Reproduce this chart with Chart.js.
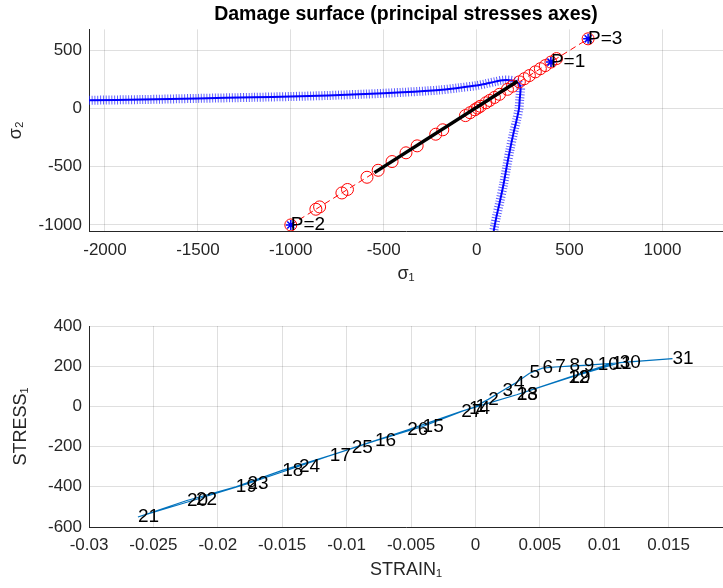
<!DOCTYPE html>
<html>
<head>
<meta charset="utf-8">
<script src="https://cdn.jsdelivr.net/npm/chart.js@4/dist/chart.umd.min.js"></script>
<style>
  html, body { margin: 0; padding: 0; background: #fff; overflow: hidden; }
  .panel { position: absolute; left: 0; width: 723px; height: 294px; overflow: hidden; }
  #top { top: 0; }
  #bottom { top: 294px; }
</style>
</head>
<body>
<!-- the top canvas is 7px wider than the panel: chart.js keeps a 7px margin for the large markers -->
<div class="panel" id="top"><canvas id="surface" width="730" height="294"></canvas></div>
<div class="panel" id="bottom"><canvas id="response" width="723" height="294"></canvas></div>
<script>
// damage surface boundary (principal stresses)
const surfaceS1 = [-2086, -1800, -1500, -1200, -1000, -800, -600, -400, -200, -100, 0, 50, 100, 140, 180, 210, 228, 236,
  236, 232, 228, 215, 200, 180, 162, 145, 125, 108, 98, 92];
const surfaceS2 = [72, 78, 88, 97, 104, 113, 125, 140, 160, 178, 198, 214, 232, 244, 244, 232, 212, 185,
  150, 80, 0, -100, -200, -350, -500, -650, -800, -920, -1000, -1052];

// stress path (sigma1 = sigma2)
const pathSigma = [-1000, -865, -845, -725, -695, -590, -530, -455, -380, -320, -220, -182, -60, -35, -10, 5, 20,
  50, 70, 96, 123, 166, 193, 230, 257, 284, 316, 343, 370, 400, 430, 600];

const elasticS1 = [-550, 220];
const elasticS2 = [-550, 235];

const probeLabels = ["P=1", "P=2", "P=3"];
const probeS1 = [400, -1000, 600];
const probeS2 = [400, -1000, 600];

const sigma1Ticks = [-2000, -1500, -1000, -500, 0, 500, 1000];
const sigma2Ticks = [-1000, -500, 0, 500];

// strain / stress history, steps 1..31
const strainValues = [0, 0.001, 0.0021, 0.003, 0.0042, 0.0052, 0.0062, 0.0073, 0.0084, 0.0095, 0.0106,
  0.0072, 0.0032, -0.0005, -0.0041, -0.0078, -0.0113, -0.015, -0.0186, -0.0224, -0.0262,
  -0.0217, -0.0177, -0.0137, -0.0096, -0.0053, -0.0011, 0.0032, 0.0073, 0.0112, 0.0153];
const stressValues = [0, 35, 78, 112, 165, 190, 196, 200, 204, 209, 214,
  143, 58, -12, -100, -172, -245, -318, -400, -468, -550,
  -463, -385, -298, -208, -118, -25, 58, 143, 218, 238];
const stepLabels = strainValues.map((_v, i) => String(i + 1));

const strainTicks = [-0.03, -0.025, -0.02, -0.015, -0.01, -0.005, 0, 0.005, 0.01, 0.015];
const stressTicks = [-600, -400, -200, 0, 200, 400];

const FONT = "'Liberation Sans', Arial, sans-serif";
const AXIS_COLOR = "#262626";
const GRID_COLOR = "rgba(38,38,38,0.15)";

const pointLabelPlugin = {
  id: "pointLabels",
  afterDatasetsDraw(chart, _args, options) {
    const { ctx } = chart;
    const meta = chart.getDatasetMeta(options.datasetIndex);
    ctx.save();
    ctx.font = options.font;
    ctx.fillStyle = options.color;
    ctx.textAlign = "left";
    ctx.textBaseline = "middle";
    meta.data.forEach((el, i) => {
      ctx.fillText(options.labels[i], el.x, el.y);
    });
    ctx.restore();
  },
};

function axis(min, max, tickValues, title, titlePad, fit, tickPad) {
  return {
    type: "linear",
    min,
    max,
    afterFit: fit,
    afterBuildTicks: (scale) => {
      scale.ticks = tickValues.map((value) => ({ value }));
    },
    border: { color: AXIS_COLOR, width: 1 },
    grid: { color: GRID_COLOR, drawTicks: false },
    ticks: {
      padding: tickPad,
      autoSkip: false,
      maxRotation: 0,
      color: AXIS_COLOR,
      font: { family: FONT, size: 17 },
      callback: (v) => String(Number(v.toFixed(3))),
    },
    title: {
      display: true,
      text: title,
      color: AXIS_COLOR,
      padding: titlePad,
      font: { family: FONT, size: 18 },
    },
  };
}

const pairs = (xs, ys) => xs.map((x, i) => ({ x, y: ys[i] }));

new Chart(document.getElementById("surface"), {
  type: "scatter",
  data: {
    datasets: [
      {
        data: pairs(probeS1, probeS2),
        pointStyle: "star",
        pointRadius: 5,
        borderColor: "#0000ff",
        pointBorderWidth: 1.5,
        order: 1,
      },
      {
        data: pairs(elasticS1, elasticS2),
        showLine: true,
        borderColor: "#000000",
        borderWidth: 3.5,
        pointRadius: 0,
        order: 2,
      },
      {
        data: pairs(pathSigma, pathSigma),
        showLine: true,
        borderColor: "#ff0000",
        borderWidth: 1,
        borderDash: [6, 4],
        pointStyle: "circle",
        pointRadius: 6,
        pointBorderColor: "#ff0000",
        pointBackgroundColor: "rgba(0,0,0,0)",
        pointBorderWidth: 1,
        order: 3,
      },
      {
        data: pairs(surfaceS1, surfaceS2),
        showLine: true,
        borderColor: "#0000ff",
        borderWidth: 2,
        tension: 0.3,
        pointRadius: 0,
        order: 4,
      },
      {
        data: pairs(surfaceS1, surfaceS2),
        showLine: true,
        borderColor: "rgba(40,40,255,0.75)",
        borderWidth: 9,
        borderDash: [1, 1.8],
        tension: 0.3,
        pointRadius: 0,
        order: 5,
      },
    ],
  },
  options: {
    responsive: false,
    animation: false,
    layout: { padding: 0 },
    plugins: {
      legend: { display: false },
      tooltip: { enabled: false },
      title: {
        display: true,
        fullSize: false,
        text: "Damage surface (principal stresses axes)",
        color: "#000000",
        font: { family: FONT, size: 19.5, weight: "bold" },
        padding: { top: 3, bottom: 3 },
      },
      pointLabels: {
        datasetIndex: 0,
        labels: probeLabels,
        font: `19px ${FONT}`,
        color: "#000000",
      },
    },
    scales: {
      x: axis(-2086, 1326, sigma1Ticks, "σ₁", { top: 0, bottom: 9 }, (s) => { s.height = 63; }, 9),
      y: axis(-1052, 681, sigma2Ticks, "σ₂", { top: 5, bottom: 0 }, (s) => { s.width = 89; }, 7),
    },
  },
  plugins: [pointLabelPlugin],
});

new Chart(document.getElementById("response"), {
  type: "scatter",
  data: {
    datasets: [
      {
        data: pairs(strainValues, stressValues),
        showLine: true,
        borderColor: "#0072bd",
        borderWidth: 1.2,
        pointRadius: 0,
      },
    ],
  },
  options: {
    responsive: false,
    animation: false,
    layout: { padding: { top: 32, left: 0, right: 0, bottom: 0 } },
    plugins: {
      legend: { display: false },
      tooltip: { enabled: false },
      pointLabels: {
        datasetIndex: 0,
        labels: stepLabels,
        font: `19px ${FONT}`,
        color: "#000000",
      },
    },
    scales: {
      x: axis(-0.03, 0.01922, strainTicks, "STRAIN₁", { top: 0, bottom: 7 }, (s) => { s.height = 61; }, 8),
      y: axis(-600, 400, stressTicks, "STRESS₁", { top: 10, bottom: 0 }, (s) => { s.width = 89; }, 7),
    },
  },
  plugins: [pointLabelPlugin],
});
</script>
</body>
</html>
